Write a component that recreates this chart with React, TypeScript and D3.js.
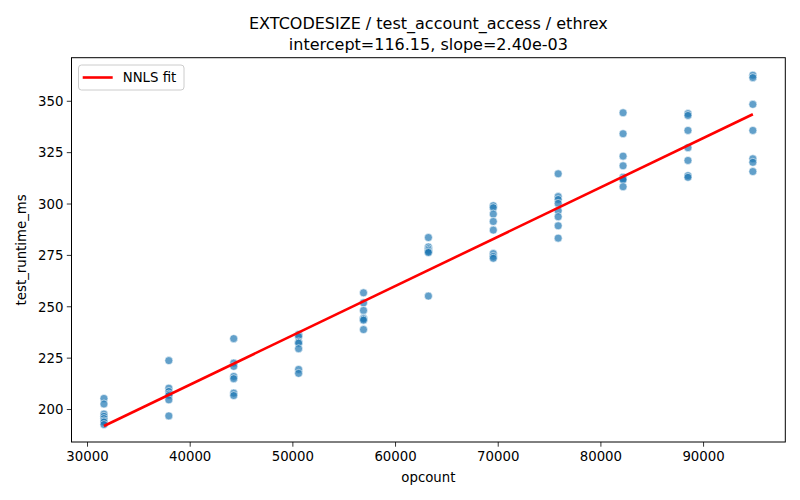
import React from "react";
import * as d3 from "d3";

const opcounts = [31600, 37920, 44240, 50560, 56880, 63200, 69520, 75840, 82160, 88480, 94800];
const runtimes = [
  [205.4, 202.7, 197.8, 196.7, 195.6, 194.5, 193.9, 192.7],
  [223.8, 210.4, 208.8, 207.5, 206.8, 204.7, 196.9],
  [234.5, 222.6, 221.0, 216.1, 215.0, 208.0, 206.8],
  [236.5, 235.5, 232.9, 232.3, 229.6, 219.5, 217.6],
  [256.8, 251.9, 248.2, 244.5, 244.1, 243.5, 238.9],
  [283.7, 279.1, 278.2, 277.5, 276.8, 276.4, 255.2],
  [299.2, 298.2, 295.1, 291.5, 287.3, 275.9, 274.5, 273.6],
  [314.7, 303.6, 302.2, 300.3, 296.7, 293.8, 289.4, 283.4],
  [344.4, 334.2, 323.3, 318.6, 313.0, 312.2, 311.8, 308.4],
  [344.0, 343.1, 335.8, 327.4, 321.2, 313.8, 313.0],
  [362.7, 361.5, 348.5, 335.8, 322.0, 320.3, 315.8],
];
const xTicks = [30000, 40000, 50000, 60000, 70000, 80000, 90000];
const yTicks = [200, 225, 250, 275, 300, 325, 350];
const intercept = 116.15;
const slope = 2.4e-3;
const titleLines = ["EXTCODESIZE / test_account_access / ethrex", "intercept=116.15, slope=2.40e-03"];

const W = 800, H = 500;
const L = 71.5, R = 785.3, T = 57.7, B = 442;
const FONT = "DejaVu Sans";

export default function App() {
  const points = opcounts.flatMap((x, i) => runtimes[i].map((y) => ({ x, y })));
  const xExt = d3.extent(opcounts) as [number, number];
  const allY = points.map((p) => p.y);
  const yExt = d3.extent(allY) as [number, number];
  const xPad = (xExt[1] - xExt[0]) * 0.05;
  const yPad = (yExt[1] - yExt[0]) * 0.05;
  const x = d3.scaleLinear().domain([xExt[0] - xPad, xExt[1] + xPad]).range([L, R]);
  const y = d3.scaleLinear().domain([yExt[0] - yPad, yExt[1] + yPad]).range([B, T]);
  const fitLine = d3.line<number>().x((d) => x(d)).y((d) => y(intercept + slope * d));
  const cx = (L + R) / 2;

  return (
    <svg width={W} height={H} style={{ position: "absolute", left: 0, top: 0, background: "#fff" }} fontFamily={FONT}>
      <rect x={0} y={0} width={W} height={H} fill="#fff" />
      {titleLines.map((t, i) => (
        <text key={i} x={cx} y={29 + i * 21} textAnchor="middle" fontSize={16} fill="#000">{t}</text>
      ))}
      {points.map((p, i) => (
        <circle key={i} cx={x(p.x)} cy={y(p.y)} r={4} fill="#1f77b4" fillOpacity={0.7} stroke="#fff" strokeWidth={0.7} strokeOpacity={0.8} />
      ))}
      <path d={fitLine(xExt) || ""} fill="none" stroke="#ff0000" strokeWidth={2.6} />
      <rect x={L} y={T} width={R - L} height={B - T} fill="none" stroke="#000" strokeWidth={1} />
      {xTicks.map((t) => (
        <g key={t}>
          <line x1={x(t)} x2={x(t)} y1={B} y2={B + 4.7} stroke="#000" strokeWidth={0.8} />
          <text x={x(t)} y={B + 19} textAnchor="middle" fontSize={13.3} fill="#000">{t}</text>
        </g>
      ))}
      {yTicks.map((t) => (
        <g key={t}>
          <line x1={L - 4.7} x2={L} y1={y(t)} y2={y(t)} stroke="#000" strokeWidth={0.8} />
          <text x={L - 8} y={y(t) + 4.8} textAnchor="end" fontSize={13.3} fill="#000">{t}</text>
        </g>
      ))}
      <text x={cx} y={482} textAnchor="middle" fontSize={13.3} fill="#000">opcount</text>
      <text transform={`translate(26,${(T + B) / 2}) rotate(-90)`} textAnchor="middle" fontSize={13.3} fill="#000">test_runtime_ms</text>
      <g>
        <rect x={78.5} y={65} width={105.5} height={25} rx={3} fill="#fff" fillOpacity={0.8} stroke="#ccc" strokeWidth={1} />
        <line x1={82.7} x2={112.7} y1={77.5} y2={77.5} stroke="#ff0000" strokeWidth={2.6} />
        <text x={122.7} y={82.3} fontSize={13.3} fill="#000">NNLS fit</text>
      </g>
    </svg>
  );
}
